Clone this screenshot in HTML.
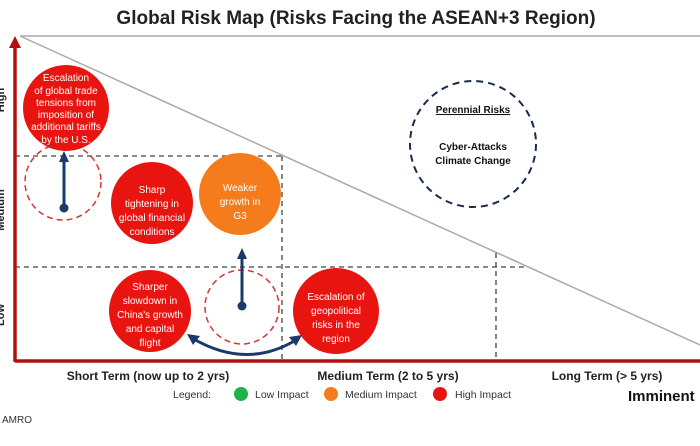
<!DOCTYPE html>
<html><head><meta charset="utf-8"><style>
body{margin:0;background:#fff;width:700px;height:441px;overflow:hidden;font-family:"Liberation Sans",Arial,sans-serif}
</style></head><body>
<svg width="700" height="441" viewBox="0 0 700 441" xmlns="http://www.w3.org/2000/svg" font-family="Liberation Sans, Arial, sans-serif">
<text x="356" y="24" text-anchor="middle" font-size="19" font-weight="bold" fill="#222">Global Risk Map (Risks Facing the ASEAN+3 Region)</text>
<line x1="20" y1="36" x2="700" y2="36" stroke="#aaa" stroke-width="1.5"/>
<line x1="20" y1="36" x2="700" y2="345" stroke="#aaa" stroke-width="1.5"/>
<g stroke="#444" stroke-width="1.3" stroke-dasharray="5,4" fill="none">
<line x1="15" y1="156" x2="282" y2="156"/>
<line x1="282" y1="156" x2="282" y2="361"/>
<line x1="15" y1="267" x2="525" y2="267"/>
<line x1="496" y1="253" x2="496" y2="361"/>
</g>
<line x1="15" y1="361" x2="700" y2="361" stroke="#b01010" stroke-width="3.5"/>
<line x1="15" y1="362" x2="15" y2="46" stroke="#b01010" stroke-width="3.5"/>
<polygon points="15,36 9,48 21,48" fill="#b01010"/>
<g font-size="11" font-weight="bold" fill="#222">
<text transform="translate(4,100) rotate(-90)" text-anchor="middle">High</text>
<text transform="translate(4,210) rotate(-90)" text-anchor="middle">Medium</text>
<text transform="translate(4,315) rotate(-90)" text-anchor="middle">Low</text>
</g>
<circle cx="473" cy="144" r="63" fill="none" stroke="#1a2b50" stroke-width="2" stroke-dasharray="7,5"/>
<text x="473" y="113" text-anchor="middle" font-size="10" font-weight="bold" text-decoration="underline" fill="#111">Perennial Risks</text>
<text x="473" y="150" text-anchor="middle" font-size="10" font-weight="bold" fill="#111">Cyber-Attacks</text>
<text x="473" y="164" text-anchor="middle" font-size="10" font-weight="bold" fill="#111">Climate Change</text>
<circle cx="63" cy="182" r="38" fill="none" stroke="#e03030" stroke-width="1.5" stroke-dasharray="6,4"/>
<circle cx="242" cy="307" r="37" fill="none" stroke="#e03030" stroke-width="1.5" stroke-dasharray="6,4"/>
<circle cx="66" cy="108" r="43" fill="#e8140f"/>
<circle cx="152" cy="203" r="41" fill="#e8140f"/>
<circle cx="240" cy="194" r="41" fill="#f47c1c"/>
<circle cx="150" cy="311" r="41" fill="#e8140f"/>
<circle cx="336" cy="311" r="43" fill="#e8140f"/>
<g fill="#fff" font-size="10" text-anchor="middle">
<text x="66" y="81">Escalation</text>
<text x="66" y="94">of global trade</text>
<text x="66" y="106">tensions from</text>
<text x="66" y="118">imposition of</text>
<text x="66" y="130">additional tariffs</text>
<text x="66" y="143">by the U.S.</text>
<text x="152" y="193">Sharp</text>
<text x="152" y="207">tightening in</text>
<text x="152" y="221">global financial</text>
<text x="152" y="235">conditions</text>
<text x="240" y="191">Weaker</text>
<text x="240" y="205">growth in</text>
<text x="240" y="219">G3</text>
<text x="150" y="290">Sharper</text>
<text x="150" y="304">slowdown in</text>
<text x="150" y="318">China's growth</text>
<text x="150" y="332">and capital</text>
<text x="150" y="346">flight</text>
<text x="336" y="300">Escalation of</text>
<text x="336" y="314">geopolitical</text>
<text x="336" y="328">risks in the</text>
<text x="336" y="342">region</text>
</g>
<g stroke="#1a3a6a" stroke-width="3" fill="#1a3a6a">
<line x1="64" y1="208" x2="64" y2="160"/>
<polygon points="64,151 59,162 69,162" stroke="none"/>
<circle cx="64" cy="208" r="4.5" stroke="none"/>
<line x1="242" y1="306" x2="242" y2="258"/>
<polygon points="242,248 237,259 247,259" stroke="none"/>
<circle cx="242" cy="306" r="4.5" stroke="none"/>
<path d="M192,338 Q246,370 296,340" fill="none"/>
<polygon points="187,334 200,336 193,345" stroke="none"/>
<polygon points="302,335 289,337 296,346" stroke="none"/>
</g>
<g font-size="12" font-weight="bold" fill="#222" text-anchor="middle">
<text x="148" y="380">Short Term (now up to 2 yrs)</text>
<text x="388" y="380">Medium Term (2 to 5 yrs)</text>
<text x="607" y="380">Long Term (&gt; 5 yrs)</text>
</g>
<text x="628" y="401" font-size="15" font-weight="bold" fill="#111">Imminent</text>
<g font-size="10.5" fill="#333">
<text x="173" y="398">Legend:</text>
<circle cx="241" cy="394" r="7" fill="#1db34a"/>
<text x="255" y="398">Low Impact</text>
<circle cx="331" cy="394" r="7" fill="#f47c1c"/>
<text x="345" y="398">Medium Impact</text>
<circle cx="440" cy="394" r="7" fill="#e8140f"/>
<text x="455" y="398">High Impact</text>
</g>
<text x="2" y="423" font-size="10" fill="#333">AMRO</text>
</svg>
</body></html>
